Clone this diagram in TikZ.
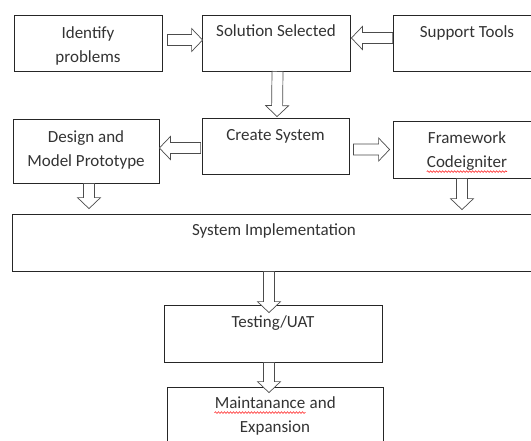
\documentclass[tikz,border=0pt]{standalone}
\usepackage{fontspec}
\setmainfont{Carlito}
\usetikzlibrary{positioning,calc,decorations.pathmorphing}

\tikzset{
  box/.style={draw=black!85, line width=0.8pt, inner sep=0pt},
  txt/.style={align=center, inner sep=0pt, text=black!80, font=\fontsize{17}{24}\selectfont},
  squig/.style={red, line width=0.5pt, decorate, decoration={snake, amplitude=0.8pt, segment length=3pt}},
  fat/.style={draw=black!70, fill=white, line width=0.7pt, line join=miter,
    to path={let \p1=(\tikztostart), \p2=(\tikztotarget),
      \n1={atan2(\y2-\y1,\x2-\x1)}, \n2={veclen(\x2-\x1,\y2-\y1)} in
      {[shift={(\p1)}, rotate=\n1]
      (0pt,-5.5pt) -- ({(\n2-11)*1pt},-5.5pt) -- ({(\n2-11)*1pt},-11.5pt) -- ({\n2*1pt},0pt)
      -- ({(\n2-11)*1pt},11.5pt) -- ({(\n2-11)*1pt},5.5pt) -- (0pt,5.5pt) -- cycle}}}
}
% red spell-check wave under a word
\newcommand{\spellmark}[1]{\tikz[baseline=(word.base)]{\node[inner sep=0pt] (word) {#1};
  \draw[squig] ([yshift=-4pt]word.base west) -- ([yshift=-4pt]word.base east);}}

\begin{document}
\begin{tikzpicture}[x=1pt, y=1pt]
		\useasboundingbox (0,0) rectangle (531,-440);
		\clip (0,0) rectangle (531,-440);
		% boxes
		\node[box, minimum width=148pt, minimum height=56pt] (ident) at (88,-43) {};
		\node[box, minimum width=148pt, minimum height=56pt] (sel) at (276,-43) {};
		\node[box, minimum width=148pt, minimum height=56pt] (supp) at (467,-43) {};
		\node[box, minimum width=146pt, minimum height=64pt] (design) at (86,-151) {};
		\node[box, minimum width=147pt, minimum height=56pt] (create) at (275.5,-146) {};
		\node[box, minimum width=148pt, minimum height=57pt] (frame) at (467,-149.5) {};
		\node[box, minimum width=524pt, minimum height=57pt] (impl) at (274,-242.5) {};
		\node[box, minimum width=218pt, minimum height=57pt] (test) at (273,-333.5) {};
		\node[box, minimum width=216pt, minimum height=63pt] (maint) at (275,-418.5) {};
		% texts
		\node[txt, below=12pt of ident.north] (identT) {Identify\\problems};
		\node[txt, below=10pt of sel.north] (selT) {Solution Selected};
		\node[txt, below=11pt of supp.north] (suppT) {Support Tools};
		\node[txt, below=12pt of design.north] (designT) {Design and\\Model Prototype};
		\node[txt, below=12pt of create.north] (createT) {Create System};
		\node[txt, below=11pt of frame.north] (frameT) {Framework\\\spellmark{Codeigniter}};
		\node[txt, below=10pt of impl.north] (implT) {System Implementation};
		\node[txt, below=11pt of test.north] (testT) {Testing/UAT};
		\node[txt, below=10pt of maint.north] (maintT) {\spellmark{Maintanance} and\\Expansion};
		% arrows
		\draw[fat] ([shift={(5pt,3pt)}]ident.east) to ([shift={(1pt,3pt)}]sel.west);
		\draw[fat] ([yshift=5pt]supp.west) to ([shift={(1pt,5pt)}]sel.east);
		\draw[fat] ([xshift=1.5pt]sel.south) to ([shift={(1.5pt,1pt)}]create.north);
		\draw[fat] ([shift={(-1pt,-2pt)}]create.west) to ([yshift=-2pt]create.west -| design.east);
		\draw[fat] ([xshift=4pt]create.east |- frame.west) to ([xshift=-3pt]frame.west);
		\draw[fat] ([xshift=3pt]design.south) to ([shift={(3pt,5pt)}]design.south |- impl.north);
		\draw[fat] ([xshift=-5pt]frame.south) to ([shift={(-5pt,4pt)}]frame.south |- impl.north);
		\draw[fat] ([xshift=-5pt]impl.south) to ([shift={(-4pt,-8pt)}]test.north);
		\draw[fat] ([xshift=-4pt]test.south) to ([shift={(-6pt,-6pt)}]maint.north);
	\end{tikzpicture}
\end{document}
